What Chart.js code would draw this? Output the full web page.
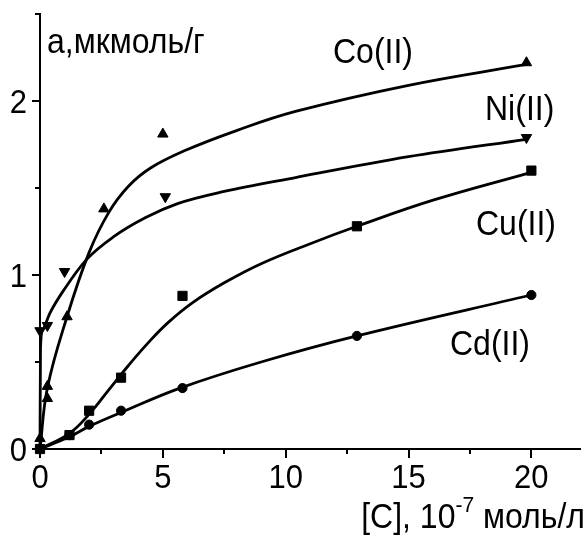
<!DOCTYPE html>
<html><head><meta charset="utf-8">
<script src="https://cdn.jsdelivr.net/npm/chart.js@4/dist/chart.umd.min.js"></script>
<style>html,body{margin:0;padding:0;background:#fff}#wrap{width:588px;height:537px}</style>
</head><body><div id="wrap"><canvas id="c" width="588" height="537"></canvas></div>
<script>
// ---- data ----
const seriesNames = ['Co(II)', 'Ni(II)', 'Cu(II)', 'Cd(II)'];
const xTickLabels = ['0', '5', '10', '15', '20'];
const yTickLabels = ['0', '1', '2'];
const yAxisTitle = 'а,мкмоль/г';
const xAxisTitle = ['[C], 10', '-7', ' моль/л'];

// measured points [C] (10^-7 mol/l) -> a (umol/g)
const coX = [0, 0.3, 0.3, 1.1, 2.6, 5.0, 19.8];
const coY = [0.06, 0.29, 0.36, 0.76, 1.38, 1.81, 2.22];
const niX = [0, 0.3, 1.0, 5.1, 19.8];
const niY = [0.68, 0.71, 1.02, 1.45, 1.79];
const cuX = [0, 1.2, 2.0, 3.3, 5.8, 12.9, 20.0];
const cuY = [0, 0.08, 0.22, 0.41, 0.88, 1.28, 1.60];
const cdX = [0, 1.2, 2.0, 3.3, 5.8, 12.9, 20.0];
const cdY = [0, 0.08, 0.14, 0.22, 0.35, 0.65, 0.885];

// fitted curves
const coFitX = [0, 0.3, 1.1, 2.0, 2.8, 3.6, 4.5, 5.9, 8.0, 10.4, 15.0, 19.8];
const coFitY = [0, 0.35, 0.76, 1.13, 1.36, 1.51, 1.615, 1.715, 1.83, 1.94, 2.09, 2.21];
const niFitX = [0, 0.02, 0.1, 0.4, 1.0, 1.9, 3.0, 4.3, 5.6, 7.5, 10.4, 15.0, 19.8];
const niFitY = [0, 0.58, 0.68, 0.78, 0.92, 1.09, 1.22, 1.33, 1.41, 1.48, 1.56, 1.68, 1.78];
const cuFitX = [0, 1.2, 2.0, 2.8, 3.6, 4.4, 5.2, 6.2, 7.5, 9.0, 11.0, 12.9, 16.0, 20.0];
const cuFitY = [0, 0.09, 0.2, 0.34, 0.48, 0.61, 0.725, 0.84, 0.955, 1.065, 1.18, 1.28, 1.43, 1.59];
const cdFitX = [0, 1.2, 2.0, 3.3, 5.7, 9.0, 12.9, 20.0];
const cdFitY = [0, 0.07, 0.13, 0.21, 0.35, 0.5, 0.65, 0.885];

const zip = (xs, ys) => xs.map((x, i) => ({x: x, y: ys[i]}));

const curve = (name, xs, ys, mono) => ({
  label: name + ' fit', type: 'line', data: zip(xs, ys), showLine: true,
  borderColor: '#000', borderWidth: 2.8, pointRadius: 0, fill: false,
  cubicInterpolationMode: mono ? 'monotone' : 'default', tension: 0.4,
  clip: false, order: 2
});
const marks = (name, xs, ys, style, r, rot) => ({
  label: name, type: 'scatter', data: zip(xs, ys), showLine: false,
  pointStyle: style, pointRadius: r, pointRotation: rot || 0,
  backgroundColor: '#000', borderColor: '#000', borderWidth: 1, clip: false, order: 1
});

const FONT = '"Liberation Sans", Arial, sans-serif';

const decor = {
  id: 'decor',
  afterDraw(chart) {
    const ctx = chart.ctx, xs = chart.scales.x, ys = chart.scales.y;
    const left = chart.chartArea.left, bottom = chart.chartArea.bottom;
    ctx.save();
    ctx.strokeStyle = '#000'; ctx.lineWidth = 2; ctx.lineCap = 'butt';
    for (let v = 0; v <= 2.5001; v += 0.5) {
      const py = Math.round(ys.getPixelForValue(v));
      const major = Math.abs(v - Math.round(v)) < 1e-6;
      const len = major ? 8 : 5;
      ctx.beginPath(); ctx.moveTo(left - len, py); ctx.lineTo(left, py); ctx.stroke();
    }
    for (let v = 0; v <= 22; v += 2.5) {
      const px = Math.round(xs.getPixelForValue(v));
      const major = Math.abs(v / 5 - Math.round(v / 5)) < 1e-6;
      const len = major ? 9 : 5;
      ctx.beginPath(); ctx.moveTo(px, bottom); ctx.lineTo(px, bottom + len); ctx.stroke();
    }
    ctx.fillStyle = '#000';
    const txt = (s, x, y, size) => {
      ctx.save();
      ctx.font = size + 'px ' + FONT;
      ctx.translate(x, y); ctx.scale(1, 1.08);
      ctx.fillText(s, 0, 0);
      ctx.restore();
    };
    ctx.textBaseline = 'alphabetic';
    ctx.textAlign = 'right';
    yTickLabels.forEach(t => txt(t, 27, ys.getPixelForValue(parseFloat(t)) + 12, 31));
    ctx.textAlign = 'center';
    xTickLabels.forEach(t => txt(t, xs.getPixelForValue(parseFloat(t)), 488, 31));
    ctx.textAlign = 'left';
    txt(yAxisTitle, 47, 53, 32);
    const lab = [[seriesNames[0], 333, 63], [seriesNames[1], 485, 120], [seriesNames[2], 476, 235], [seriesNames[3], 450, 355]];
    lab.forEach(l => txt(l[0], l[1], l[2], 32));
    ctx.font = '32px ' + FONT;
    const w1 = ctx.measureText(xAxisTitle[0]).width;
    const w3 = ctx.measureText(xAxisTitle[2]).width;
    ctx.font = '21px ' + FONT;
    const w2 = ctx.measureText(xAxisTitle[1]).width;
    const x0 = 585 - w1 - w2 - w3;
    txt(xAxisTitle[0], x0, 528, 32);
    txt(xAxisTitle[1], x0 + w1, 512, 21);
    txt(xAxisTitle[2], x0 + w1 + w2, 528, 32);
    ctx.restore();
  }
};

new Chart(document.getElementById('c'), {
  type: 'scatter',
  data: {
    datasets: [
      curve(seriesNames[0], coFitX, coFitY, false),
      curve(seriesNames[1], niFitX, niFitY, true),
      curve(seriesNames[2], cuFitX, cuFitY, false),
      curve(seriesNames[3], cdFitX, cdFitY, false),
      marks(seriesNames[0], coX, coY, 'triangle', 6),
      marks(seriesNames[1], niX, niY, 'triangle', 6, 180),
      marks(seriesNames[2], cuX, cuY, 'rect', 6.5),
      marks(seriesNames[3], cdX, cdY, 'circle', 4.6)
    ]
  },
  options: {
    responsive: false, animation: false, devicePixelRatio: 1,
    layout: {padding: {top: 14, right: 0, left: 0, bottom: 0}},
    plugins: {legend: {display: false}, tooltip: {enabled: false}, title: {display: false}},
    scales: {
      x: {type: 'linear', min: 0, max: 22,
          afterFit(s) { s.height = 88; },
          ticks: {display: false, stepSize: 2.5},
          grid: {display: false, drawTicks: false},
          border: {display: true, color: '#000', width: 2}},
      y: {type: 'linear', min: 0, max: 2.5,
          afterFit(s) { s.width = 40; },
          ticks: {display: false, stepSize: 0.5},
          grid: {display: false, drawTicks: false},
          border: {display: true, color: '#000', width: 2}}
    }
  },
  plugins: [decor]
});
</script></body></html>
